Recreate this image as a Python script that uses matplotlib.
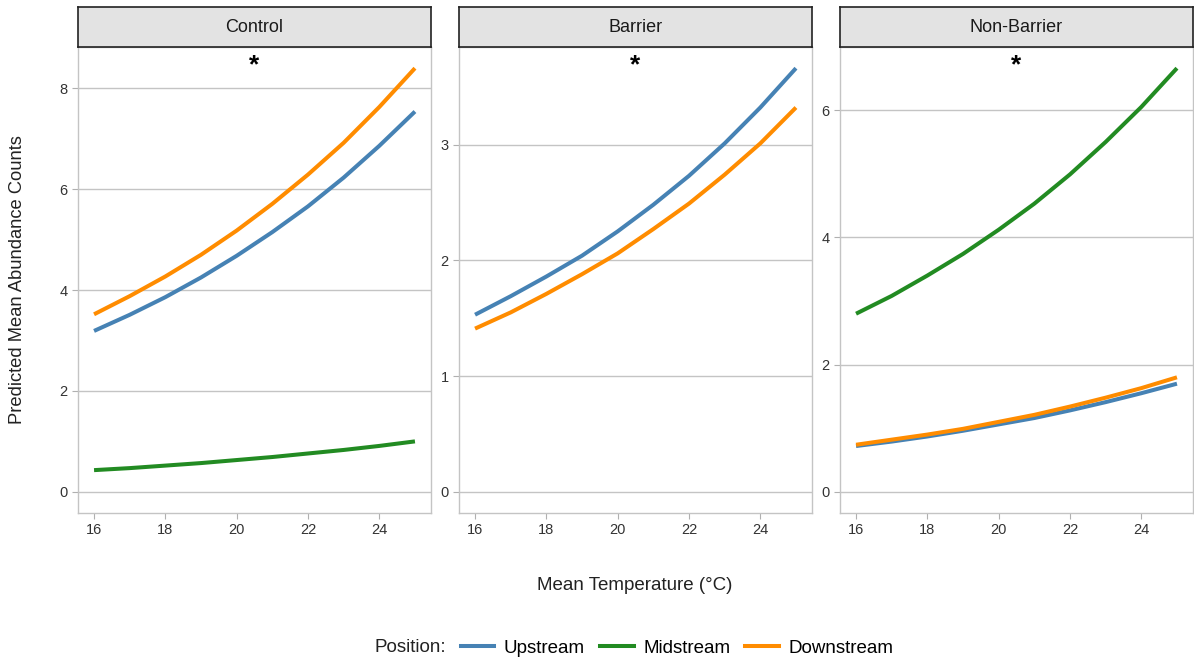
import matplotlib
matplotlib.use("Agg")
import matplotlib.pyplot as plt
import numpy as np

plt.rcParams["font.family"] = ["Liberation Sans", "DejaVu Sans"]

temperature = [16, 17, 18, 19, 20, 21, 22, 23, 24, 25]
treatments = ["Control", "Barrier", "Non-Barrier"]

# predicted mean counts per treatment and stream position
control_up = [3.19, 3.51, 3.86, 4.25, 4.68, 5.15, 5.66, 6.23, 6.86, 7.54]
control_mid = [0.43, 0.47, 0.52, 0.57, 0.63, 0.69, 0.76, 0.83, 0.91, 1.00]
control_down = [3.52, 3.88, 4.27, 4.70, 5.18, 5.71, 6.29, 6.92, 7.63, 8.40]
barrier_up = [1.53, 1.69, 1.86, 2.04, 2.25, 2.48, 2.73, 3.01, 3.32, 3.66]
barrier_down = [1.41, 1.55, 1.71, 1.88, 2.06, 2.27, 2.49, 2.74, 3.01, 3.32]
nonbarrier_up = [0.72, 0.79, 0.87, 0.96, 1.06, 1.16, 1.28, 1.41, 1.55, 1.70]
nonbarrier_mid = [2.80, 3.08, 3.40, 3.74, 4.12, 4.53, 4.99, 5.50, 6.05, 6.66]
nonbarrier_down = [0.74, 0.82, 0.90, 0.99, 1.10, 1.21, 1.34, 1.48, 1.63, 1.80]

y_ticks = [[0, 2, 4, 6, 8], [0, 1, 2, 3], [0, 2, 4, 6]]
x_ticks = [16, 18, 20, 22, 24]
star_x = 20.5

positions = ["Upstream", "Midstream", "Downstream"]
colors = {"Upstream": "#4682B4", "Midstream": "#228B22", "Downstream": "#FF8C00"}

panel_data = [
    {"Upstream": control_up, "Midstream": control_mid, "Downstream": control_down},
    {"Upstream": barrier_up, "Downstream": barrier_down},
    {"Upstream": nonbarrier_up, "Midstream": nonbarrier_mid, "Downstream": nonbarrier_down},
]

W, H = 1194, 666
fig = plt.figure(figsize=(W / 100, H / 100), dpi=100)

lefts = [78, 459, 840]
panel_w = 353
bottom_px, top_px, strip_top = 513, 47, 7

for i, (name, data) in enumerate(zip(treatments, panel_data)):
    ax = fig.add_axes([lefts[i] / W, 1 - bottom_px / H, panel_w / W, (bottom_px - top_px) / H])
    for pos in positions:
        if pos in data:
            ax.plot(temperature, data[pos], color=colors[pos], lw=2.9, solid_capstyle="butt")

    hi = max(max(v) for v in data.values())
    pad = 0.05 * hi
    ax.set_ylim(-pad, hi + pad)
    xpad = 0.05 * (temperature[-1] - temperature[0])
    ax.set_xlim(temperature[0] - xpad, temperature[-1] + xpad)

    ax.set_yticks(y_ticks[i])
    ax.set_xticks(x_ticks)
    ax.yaxis.grid(True, color="#C4C4C4", lw=1.0)
    ax.set_axisbelow(True)
    ax.tick_params(colors="#B0B0B0", labelcolor="#333333", labelsize=10.5, length=4, width=0.8)
    for sp in ax.spines.values():
        sp.set_color("#C4C4C4")
        sp.set_linewidth(1.0)

    ax.text(star_x, 0.96, "*", transform=ax.get_xaxis_transform(),
            ha="center", va="center", fontsize=19, fontweight="bold", color="black")

    # facet strip
    strip = fig.add_axes([lefts[i] / W, 1 - top_px / H, panel_w / W, (top_px - strip_top) / H])
    strip.set_facecolor("#E3E3E3")
    strip.set_xticks([])
    strip.set_yticks([])
    for sp in strip.spines.values():
        sp.set_color("#222222")
        sp.set_linewidth(1.2)
    strip.text(0.5, 0.5, name, ha="center", va="center", fontsize=13, color="#1A1A1A",
               transform=strip.transAxes)

fig.text(18 / W, 1 - 280 / H, "Predicted Mean Abundance Counts", rotation=90,
         ha="center", va="center", fontsize=13.2, color="#222222")
fig.text(635 / W, 1 - 585 / H, "Mean Temperature (\u00b0C)",
         ha="center", va="center", fontsize=13.5, color="#222222")

handles = [plt.Line2D([], [], color=colors[p], lw=2.9) for p in positions]
fig.legend(handles, positions, loc="center", bbox_to_anchor=(677 / W, 1 - 648 / H),
           ncol=3, frameon=False, fontsize=13.5, handlelength=1.8, handletextpad=0.5,
           columnspacing=0.8)
fig.text(410 / W, 1 - 648 / H, "Position:", ha="center", va="center", fontsize=13.5,
         color="#222222")

fig.savefig("out.png", dpi=100)
